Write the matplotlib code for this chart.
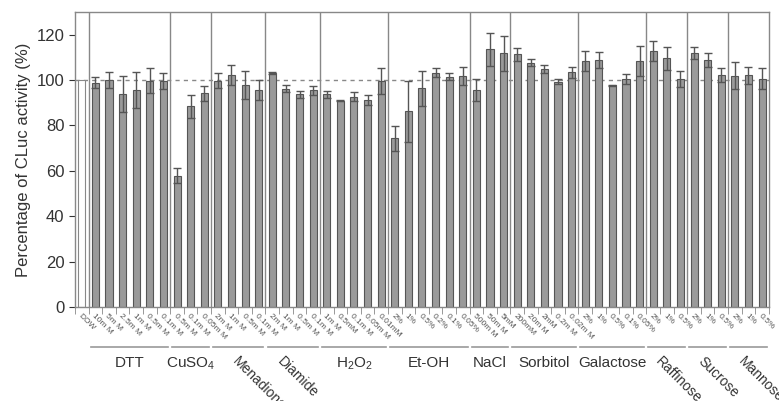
import numpy as np
import matplotlib.pyplot as plt
from matplotlib import transforms

plt.rcParams['font.family'] = ['Liberation Sans', 'DejaVu Sans']
plt.rcParams['mathtext.default'] = 'regular'

groups = ['DOW', 'DTT', 'CuSO$_4$', 'Menadione', 'Diamide', 'H$_2$O$_2$', 'Et-OH',
          'NaCl', 'Sorbitol', 'Galactose', 'Raffinose', 'Sucrose', 'Mannose']
group_sizes = [1, 6, 3, 4, 4, 5, 6, 3, 5, 5, 3, 3, 3]
group_rotated = [False, False, False, True, True, False, False,
                 False, False, False, True, True, True]

tick_labels = ['DOW',
               '10m M', '5m M', '2.5m M', '1m M', '0.5m M', '0.1m M',
               '0.5m M', '0.1m M', '0.05m M',
               '2m M', '1m M', '0.5m M', '0.1m M',
               '2m M', '1m M', '0.5m M', '0.1m M',
               '1m M', '0.5mM', '0.1m M', '0.05m M', '0.01mM',
               '2%', '1%', '0.5%', '0.2%', '0.1%', '0.05%',
               '500m M', '50m M', '5mM',
               '200mM', '20m M', '2mM', '0.2m M', '0.02m M',
               '2%', '1%', '0.5%', '0.1%', '0.05%',
               '2%', '1%', '0.5%',
               '2%', '1%', '0.5%',
               '2%', '1%', '0.5%']

values = [100,
          98.8, 100.0, 93.8, 95.6, 99.7, 99.5,
          57.8, 88.5, 94.1,
          99.7, 102.1, 97.8, 95.6,
          103.2, 96.2, 93.7, 95.6,
          93.8, 90.9, 92.6, 91.2, 99.6,
          74.3, 86.3, 96.3, 103.2, 101.5, 101.8,
          95.6, 113.5, 111.8,
          111.3, 107.6, 104.9, 99.3, 103.4,
          108.4, 108.8, 97.7, 100.4, 108.5,
          112.8, 109.6, 100.4,
          112.0, 108.8, 102.2,
          101.9, 102.2, 100.7]

errors = [0,
          2.5, 3.4, 8.0, 7.8, 5.5, 3.5,
          3.3, 5.0, 3.3,
          3.4, 4.4, 6.3, 4.4,
          0.3, 1.5, 1.5, 2.0,
          1.5, 0.3, 2.0, 2.3, 5.6,
          5.5, 13.5, 7.7, 2.0, 1.6, 4.0,
          4.8, 7.2, 7.8,
          3.0, 1.5, 1.6, 1.0, 2.5,
          4.4, 3.4, 0.3, 2.2, 6.5,
          4.5, 5.1, 3.6,
          2.5, 3.0, 3.2,
          5.9, 3.7, 4.6]

fig = plt.figure(figsize=(7.79, 4.01), dpi=100)
ax = fig.add_axes([0.0963, 0.2344, 0.8907, 0.7356])

x = np.arange(len(values))
colors = ['white'] + ['#9a9a9a'] * (len(values) - 1)
edges = ['#888888'] + ['#555555'] * (len(values) - 1)
ax.bar(x, values, width=0.52, color=colors, edgecolor=edges, linewidth=0.8, zorder=2)
ax.errorbar(x[1:], values[1:], yerr=errors[1:], fmt='none', ecolor='#555555',
            elinewidth=1.0, capsize=3, capthick=1.0, zorder=3)

ax.axhline(100, color='#888888', linestyle=(0, (3, 3)), linewidth=1.0, zorder=1)

ax.set_xlim(-0.5, len(values) - 0.5)
ax.set_ylim(0, 130)
ax.set_yticks(np.arange(0, 121, 20))
ax.tick_params(axis='y', labelsize=12, colors='#333333', length=4)
ax.set_ylabel('Percentage of CLuc activity (%)', fontsize=12, color='#333333')

ax.set_xticks(x)
ax.set_xticklabels(tick_labels, rotation=-45, ha='left', va='top',
                   rotation_mode='anchor', fontsize=6, color='#555555')
ax.tick_params(axis='x', which='major', length=0, pad=4)
ax.set_xticks(np.arange(-0.5, len(values), 1), minor=True)
ax.tick_params(axis='x', which='minor', length=5, color='#888888')

for s in ax.spines.values():
    s.set_color('#888888')
    s.set_linewidth(1.0)

# offsets of the slanted group names from the group start, in bars
rot_offset = {'Menadione': 2.1, 'Diamide': 1.4, 'Raffinose': 1.2,
              'Sucrose': 1.3, 'Mannose': 1.3}

trans = transforms.blended_transform_factory(ax.transData, ax.transAxes)
start = -0.5
for name, size, rot in zip(groups, group_sizes, group_rotated):
    end = start + size
    if name != 'DOW':
        ax.axvline(start, color='#888888', linewidth=1.0, zorder=1)
        ax.plot([start + 0.15, end - 0.15], [-0.136, -0.136], color='#999999',
                linewidth=1.2, transform=trans, clip_on=False)
        if rot:
            ax.text(start + rot_offset[name], -0.16, name, transform=trans, rotation=-45,
                    ha='left', va='top', rotation_mode='anchor', fontsize=10,
                    color='#333333')
        else:
            ax.text((start + end) / 2, -0.165, name, transform=trans, ha='center',
                    va='top', fontsize=11, color='#333333')
    start = end

fig.savefig('out.png', dpi=100)
